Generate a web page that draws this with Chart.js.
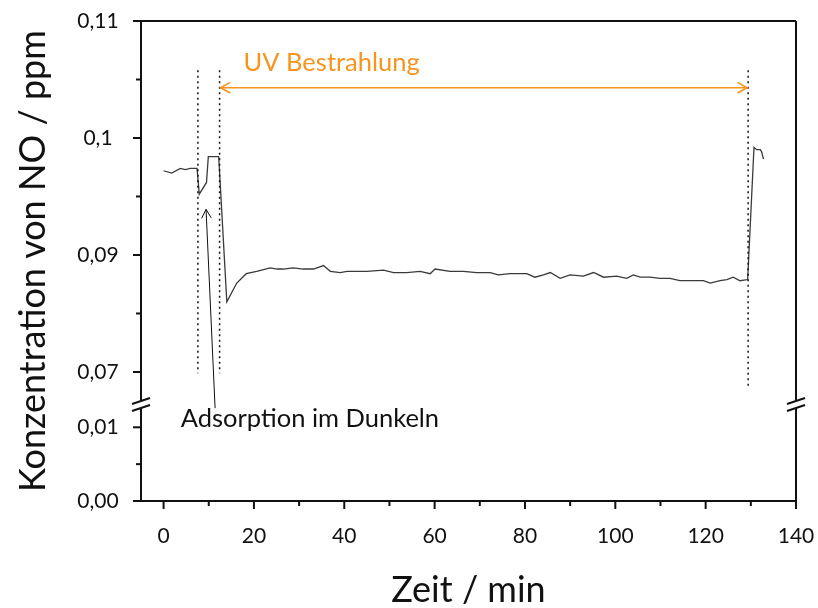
<!DOCTYPE html>
<html lang="de">
<head>
<meta charset="UTF-8">
<title>NO-Konzentration</title>
<script src="https://cdn.jsdelivr.net/npm/chart.js"></script>
<style>
  body { margin: 0; background: #fff; }
</style>
</head>
<body>
<canvas id="noChart" width="818" height="608"></canvas>

<script>
// Messwerte: Zeit in min, NO-Konzentration in ppm
var zeit = [0, 1.8, 3.7, 4.8, 5.9, 7.4, 7.9, 9.5, 9.9, 12.2,
    14.0, 16.2, 18.3, 20.6, 23.6, 25.1, 26.5, 28.7, 30.9, 33.2,
    35.4, 36.9, 39.1, 40.6, 43.5, 45.0, 48.7, 50.9, 53.8, 56.8,
    59.0, 60.1, 63.4, 66.4, 69.3, 72.3, 74.1, 76.7, 78.9, 80.4,
    82.2, 84.1, 85.6, 87.8, 90.0, 92.9, 95.2, 97.4, 100.3, 102.5,
    104.0, 105.5, 107.7, 109.9, 112.1, 114.3, 116.6, 119.5, 121.0, 123.2,
    124.7, 126.1, 127.6, 129.3, 130.7, 131.3, 132.1, 132.4, 132.8];
var konzentration = [0.0972, 0.0970, 0.0974, 0.0973, 0.0974, 0.0974, 0.0952, 0.0962, 0.0984, 0.0984,
    0.0860, 0.0876, 0.0884, 0.0886, 0.0889, 0.0888, 0.0888, 0.0889, 0.0888, 0.0888,
    0.0891, 0.0886, 0.0885, 0.0886, 0.0886, 0.0886, 0.0887, 0.0885, 0.0885, 0.0886,
    0.0884, 0.0888, 0.0886, 0.0886, 0.0885, 0.0885, 0.0883, 0.0884, 0.0884, 0.0884,
    0.0881, 0.0883, 0.0885, 0.0880, 0.0883, 0.0882, 0.0885, 0.0881, 0.0882, 0.0880,
    0.0883, 0.0881, 0.0881, 0.0880, 0.0880, 0.0878, 0.0878, 0.0878, 0.0876, 0.0878,
    0.0879, 0.0881, 0.0878, 0.0879, 0.0992, 0.0990, 0.0990, 0.0988, 0.0982];

// Achsenbeschriftung
var xTicks = [0, 20, 40, 60, 80, 100, 120, 140];
var xMinor = [10, 30, 50, 70, 90, 110, 130];
var yTicksOben = [0.08, 0.09, 0.10, 0.11];
var yLabelsOben = ['0,07', '0,09', '0,1', '0,11'];
var yMinorOben = [0.085, 0.095, 0.105];
var yTicksUnten = [0, 0.01];
var yLabelsUnten = ['0,00', '0,01'];
var yMinorUnten = [0.005];

// Zeitpunkte: Dunkelphase, Lampe an, Lampe aus
var dunkelStart = 7.6, uvStart = 12.4, uvEnde = 129.4;

var punkte = zeit.map(function (t, i) { return { x: t, y: konzentration[i] }; });

function linie(ctx, x1, y1, x2, y2) {
    ctx.beginPath();
    ctx.moveTo(x1, y1);
    ctx.lineTo(x2, y2);
    ctx.stroke();
}

function spitze(ctx, xs, ys, xa, ya, len) {
    var w = Math.atan2(ys - ya, xs - xa);
    ctx.beginPath();
    ctx.moveTo(xs - len * Math.cos(w - 0.5), ys - len * Math.sin(w - 0.5));
    ctx.lineTo(xs, ys);
    ctx.lineTo(xs - len * Math.cos(w + 0.5), ys - len * Math.sin(w + 0.5));
    ctx.stroke();
}

// Rahmen, Achsenbruch, Ticks, Texte und Pfeile
var achsenPlugin = {
    id: 'achsen',
    afterDraw: function (chart) {
        var ctx = chart.ctx;
        var sx = chart.scales.x, so = chart.scales.y, su = chart.scales.yUnten;
        var a = chart.chartArea;
        var L = a.left, R = a.right, T = a.top, B = a.bottom;
        var bruch = so.bottom;

        ctx.save();
        ctx.strokeStyle = '#111';
        ctx.fillStyle = '#111';
        ctx.lineWidth = 2;

        linie(ctx, L - 8, T, R, T);
        linie(ctx, L - 8, B, R, B);
        linie(ctx, L, T, L, bruch - 3.5);
        linie(ctx, L, bruch + 3.5, L, B);
        linie(ctx, R, T, R, bruch - 3.5);
        linie(ctx, R, bruch + 3.5, R, B + 8);

        [L, R].forEach(function (ax) {
            [-3.5, 3.5].forEach(function (d) {
                linie(ctx, ax - 9, bruch + d + 3, ax + 9, bruch + d - 3);
            });
        });

        ctx.font = '21px Lato';
        ctx.textAlign = 'center';
        ctx.textBaseline = 'middle';

        yTicksOben.forEach(function (v, i) {
            var py = so.getPixelForValue(v);
            linie(ctx, L - 8, py, L, py);
            ctx.fillText(yLabelsOben[i], L - 43, py);
        });
        yMinorOben.forEach(function (v) {
            var py = so.getPixelForValue(v);
            linie(ctx, L - 5, py, L, py);
        });
        yTicksUnten.forEach(function (v, i) {
            var py = su.getPixelForValue(v);
            linie(ctx, L - 8, py, L, py);
            ctx.fillText(yLabelsUnten[i], L - 43, py);
        });
        yMinorUnten.forEach(function (v) {
            var py = su.getPixelForValue(v);
            linie(ctx, L - 5, py, L, py);
        });
        xTicks.forEach(function (v) {
            var px = sx.getPixelForValue(v);
            linie(ctx, px, B, px, B + 8);
            ctx.fillText(String(v), px, B + 35);
        });
        xMinor.forEach(function (v) {
            var px = sx.getPixelForValue(v);
            linie(ctx, px, B, px, B + 5);
        });

        // Achsentitel
        ctx.font = '36px Lato';
        ctx.fillText('Zeit / min', (L + R) / 2, 590);
        ctx.save();
        ctx.translate(33, (T + B) / 2);
        ctx.rotate(-Math.PI / 2);
        ctx.fillText('Konzentration von NO / ppm', 0, 0);
        ctx.restore();

        // gepunktete Markierungen
        ctx.lineWidth = 1.5;
        ctx.setLineDash([2, 3.5]);
        var oben = so.getPixelForValue(0.1058);
        linie(ctx, sx.getPixelForValue(dunkelStart), oben, sx.getPixelForValue(dunkelStart), so.getPixelForValue(0.0799));
        linie(ctx, sx.getPixelForValue(uvStart), oben, sx.getPixelForValue(uvStart), so.getPixelForValue(0.0799));
        linie(ctx, sx.getPixelForValue(uvEnde), oben, sx.getPixelForValue(uvEnde), so.getPixelForValue(0.0787));
        ctx.setLineDash([]);

        // UV-Bestrahlung
        var orange = '#F7941E';
        var yPfeil = so.getPixelForValue(0.1043);
        var x1 = sx.getPixelForValue(uvStart) + 1, x2 = sx.getPixelForValue(uvEnde) - 1;
        ctx.strokeStyle = orange;
        ctx.lineWidth = 1.6;
        linie(ctx, x1, yPfeil, x2, yPfeil);
        spitze(ctx, x1, yPfeil, x2, yPfeil, 11);
        spitze(ctx, x2, yPfeil, x1, yPfeil, 11);
        ctx.fillStyle = orange;
        ctx.font = '25.5px Lato';
        ctx.textBaseline = 'alphabetic';
        ctx.fillText('UV Bestrahlung', sx.getPixelForValue(37.2), so.getPixelForValue(0.1057));

        // Adsorption im Dunkeln
        ctx.fillStyle = '#111';
        ctx.strokeStyle = '#111';
        ctx.lineWidth = 1;
        ctx.fillText('Adsorption im Dunkeln', sx.getPixelForValue(32.4), su.getPixelForValue(0.01));
        var xa = sx.getPixelForValue(11.4), ya = su.getPixelForValue(0.0126);
        var xs = sx.getPixelForValue(9.4), ys = so.getPixelForValue(0.0939);
        linie(ctx, xa, ya, xs, ys);
        spitze(ctx, xs, ys, xa, ya, 10);

        ctx.restore();
    }
};

new Chart(document.getElementById('noChart').getContext('2d'), {
    type: 'line',
    data: {
        datasets: [{
            data: punkte,
            xAxisID: 'x',
            yAxisID: 'y',
            borderColor: '#3a3a3a',
            borderWidth: 1.3,
            pointRadius: 0,
            tension: 0,
            fill: false
        }]
    },
    options: {
        responsive: false,
        animation: false,
        layout: { padding: { left: 141, right: 22, top: 21, bottom: 107 } },
        plugins: { legend: { display: false }, tooltip: { enabled: false } },
        scales: {
            x: { type: 'linear', min: -5, max: 140, display: false },
            // die Boxen im Stapel werden hier von unten nach oben gelegt
            yUnten: { type: 'linear', position: 'left', min: 0, max: 0.013094, stack: 'no', stackWeight: 96.5, display: false },
            y: { type: 'linear', position: 'left', min: 0.07722, max: 0.11, stack: 'no', stackWeight: 383.5, display: false }
        }
    },
    plugins: [achsenPlugin]
});
</script>
</body>
</html>
